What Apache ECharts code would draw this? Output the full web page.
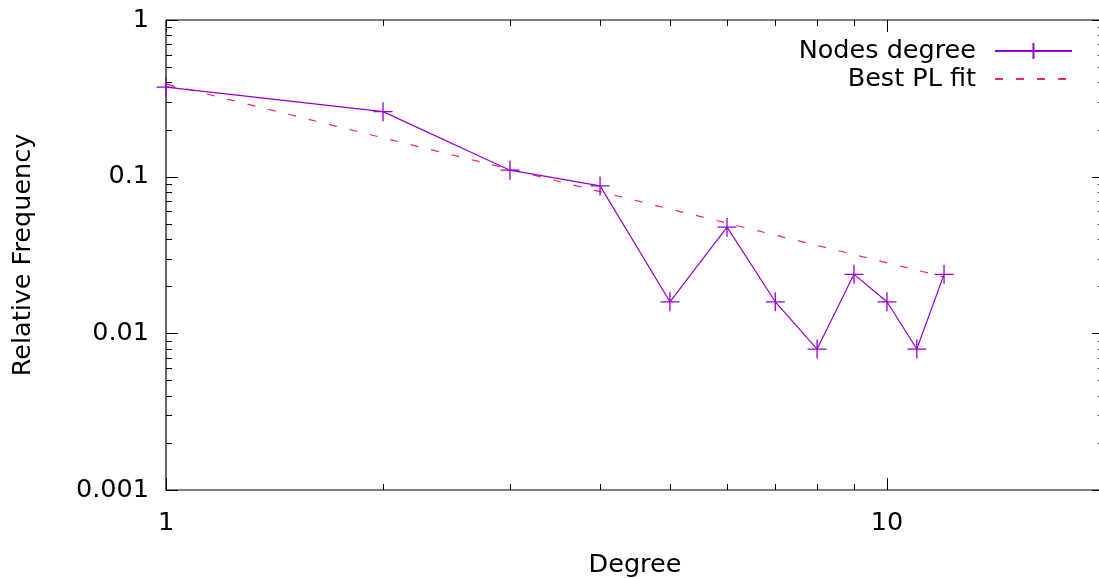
<!DOCTYPE html>
<html>
<head>
<meta charset="utf-8">
<script src="https://cdn.jsdelivr.net/npm/echarts@6/dist/echarts.min.js"></script>
<style>
html,body{margin:0;padding:0;background:#fff;}
#chart{width:1099px;height:578px;}
</style>
</head>
<body>
<div id="chart"></div>
<script>
// ---- data ----
const degrees = [1, 2, 3, 4, 5, 6, 7, 8, 9, 10, 11, 12];
const relFreq = [0.373, 0.26, 0.11, 0.0873, 0.0159, 0.0476, 0.0159, 0.00794, 0.0238, 0.0159, 0.00794, 0.0238];
const fitDegrees = [1, 2, 3, 4, 6, 8, 10, 12];
const fitFreq = [0.391, 0.177, 0.1115, 0.0802, 0.0505, 0.0364, 0.0282, 0.0229];
const xMajorTicks = [1, 10];
const xMinorTicks = [2, 3, 4, 5, 6, 7, 8, 9, 20];
const yMajorTicks = [0.001, 0.01, 0.1, 1];
const yMinorTicks = [];
[0.001, 0.01, 0.1].forEach(function (d) { for (let k = 2; k <= 9; k++) yMinorTicks.push(d * k); });
const seriesNames = ['Nodes degree', 'Best PL fit'];

const FONT = 'DejaVu Sans';
const FS = 25.5;
const chart = echarts.init(document.getElementById('chart'), null, {renderer: 'canvas'});

function tickRender(params, api) {
  const cs = params.coordSys;
  const L = cs.x, R = cs.x + cs.width, T = cs.y, B = cs.y + cs.height;
  const children = [];
  const st = {stroke: '#000', lineWidth: 1};
  function addX(v, len) {
    const px = Math.round(api.coord([v, 1])[0]) + 0.5;
    children.push({type: 'line', shape: {x1: px, y1: B, x2: px, y2: B - len}, style: st});
    children.push({type: 'line', shape: {x1: px, y1: T, x2: px, y2: T + len}, style: st});
  }
  function addY(v, len) {
    const py = Math.round(api.coord([1, v])[1]) + 0.5;
    children.push({type: 'line', shape: {x1: L, y1: py, x2: L + len, y2: py}, style: st});
    children.push({type: 'line', shape: {x1: R, y1: py, x2: R - len, y2: py}, style: st});
  }
  xMajorTicks.forEach(function (v) { addX(v, 12); });
  xMinorTicks.forEach(function (v) { addX(v, 6); });
  yMajorTicks.forEach(function (v) { addY(v, 12); });
  yMinorTicks.forEach(function (v) { addY(v, 6); });
  return {type: 'group', children: children};
}

const option = {
  animation: false,
  backgroundColor: '#fff',
  textStyle: {fontFamily: FONT},
  grid: {left: 166, top: 20, right: -5, bottom: 88, outerBoundsMode: 'none', containLabel: false,
         show: true, borderColor: '#000', borderWidth: 1.2, backgroundColor: 'transparent'},
  legend: {
    data: [{name: seriesNames[0]}, {name: seriesNames[1], itemStyle: {opacity: 0}}],
    orient: 'vertical',
    right: 21,
    top: 33,
    align: 'right',
    itemWidth: 77,
    itemHeight: 20,
    itemGap: 2,
    textStyle: {fontFamily: FONT, fontSize: FS, color: '#000', padding: [0, 14, 0, 0]},
    selectedMode: false
  },
  xAxis: {
    type: 'log', logBase: 10, min: 1, max: 20,
    name: 'Degree', nameLocation: 'middle', nameGap: 62,
    nameTextStyle: {fontFamily: FONT, fontSize: FS, color: '#000'},
    axisLine: {show: false},
    axisTick: {show: false},
    splitLine: {show: false},
    axisLabel: {
      fontFamily: FONT, fontSize: FS, color: '#000', margin: 20,
      showMaxLabel: false,
      formatter: function (v) { return xMajorTicks.some(function (t) { return Math.abs(t - v) < 1e-9 * t; }) ? String(v) : ''; }
    }
  },
  yAxis: {
    type: 'log', logBase: 10, min: 0.001, max: 1,
    name: 'Relative Frequency', nameLocation: 'middle', nameGap: 130,
    nameTextStyle: {fontFamily: FONT, fontSize: FS, color: '#000'},
    axisLine: {show: false},
    axisTick: {show: false},
    splitLine: {show: false},
    axisLabel: {
      fontFamily: FONT, fontSize: FS, color: '#000', margin: 17,
      formatter: function (v) {
        const m = yMajorTicks.find(function (t) { return Math.abs(t - v) < 1e-6 * t; });
        return m !== undefined ? String(m) : '';
      }
    }
  },
  series: [
    {
      name: 'Nodes degree',
      type: 'line',
      data: degrees.map(function (d, i) { return [d, relFreq[i]]; }),
      symbol: 'path://M10,0 L10,20 M0,10 L20,10',
      symbolSize: 19,
      clip: false,
      lineStyle: {color: '#9400d3', width: 1.2},
      itemStyle: {color: '#9400d3', borderColor: '#9400d3', borderWidth: 1.3},
      z: 3
    },
    {
      name: 'Best PL fit',
      type: 'line',
      data: fitDegrees.map(function (d, i) { return [d, fitFreq[i]]; }),
      showSymbol: false,
      symbol: 'none',
      lineStyle: {color: '#ff1f6e', width: 1.2, type: [8, 13]},
      itemStyle: {color: '#ff1f6e'},
      z: 2
    },
    {
      name: 'ticks',
      type: 'custom',
      data: [[1, 1]],
      renderItem: tickRender,
      clip: false,
      silent: true,
      z: 5
    }
  ]
};
chart.setOption(option);
</script>
</body>
</html>
